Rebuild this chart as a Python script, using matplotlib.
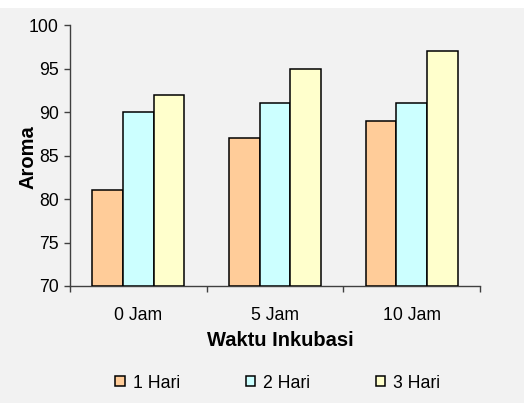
import numpy as np
import matplotlib.pyplot as plt
from matplotlib.patches import Rectangle

plt.rcParams['font.family'] = ['Liberation Sans', 'DejaVu Sans']

# aroma scores per incubation time
waktu = ['0 Jam', '5 Jam', '10 Jam']
hari_1 = [81, 87, 89]
hari_2 = [90, 91, 91]
hari_3 = [92, 95, 97]
seri = ['1 Hari', '2 Hari', '3 Hari']
warna = ['#ffcc99', '#ccffff', '#ffffcc']

fig = plt.figure(figsize=(5.24, 4.03), dpi=100, facecolor='#f2f2f2')
# white strip along the top edge
fig.patches.append(Rectangle((0, 1 - 8 / 403), 1, 8 / 403, transform=fig.transFigure,
                             facecolor='white', edgecolor='none', zorder=-1))

ax = fig.add_axes([70 / 524, 1 - 286 / 403, 410 / 524, 261 / 403])
ax.set_facecolor('none')

x = np.arange(len(waktu))
w = 0.225
for i, (vals, lab, c) in enumerate(zip([hari_1, hari_2, hari_3], seri, warna)):
    ax.bar(x + (i - 1) * w, np.array(vals) - 70, bottom=70, width=w, color=c,
           edgecolor='black', linewidth=1.1, label=lab, zorder=3)

ax.set_xlim(-0.5, 2.5)
ax.set_ylim(70, 100)
ax.set_yticks(range(70, 101, 5))
ax.set_xticks(x)
ax.set_xticklabels(waktu)
ax.set_xticks([-0.5, 0.5, 1.5, 2.5], minor=True)
ax.tick_params(axis='x', which='major', length=0, pad=15, labelsize=12.7)
ax.tick_params(axis='x', which='minor', length=4, width=1, color='#404040', direction='out')
ax.tick_params(axis='y', length=4, width=1, color='#404040', pad=4, labelsize=12.7)

for s in ['top', 'right']:
    ax.spines[s].set_visible(False)
for s in ['left', 'bottom']:
    ax.spines[s].set_color('#404040')
    ax.spines[s].set_linewidth(1)

fig.text(28 / 524, 1 - 157 / 403, 'Aroma', rotation=90, fontsize=14.5, fontweight='bold',
         ha='center', va='center')
fig.text(280 / 524, 1 - 341 / 403, 'Waktu Inkubasi', fontsize=14.5, fontweight='bold',
         ha='center', va='center')

leg = fig.legend(loc='center', bbox_to_anchor=(278 / 524, 1 - 383 / 403), ncol=3,
                 frameon=False, fontsize=12.7, handlelength=0.52, handleheight=0.52,
                 handletextpad=0.45, columnspacing=3.75)

fig.savefig('out.png', dpi=100, facecolor=fig.get_facecolor())
